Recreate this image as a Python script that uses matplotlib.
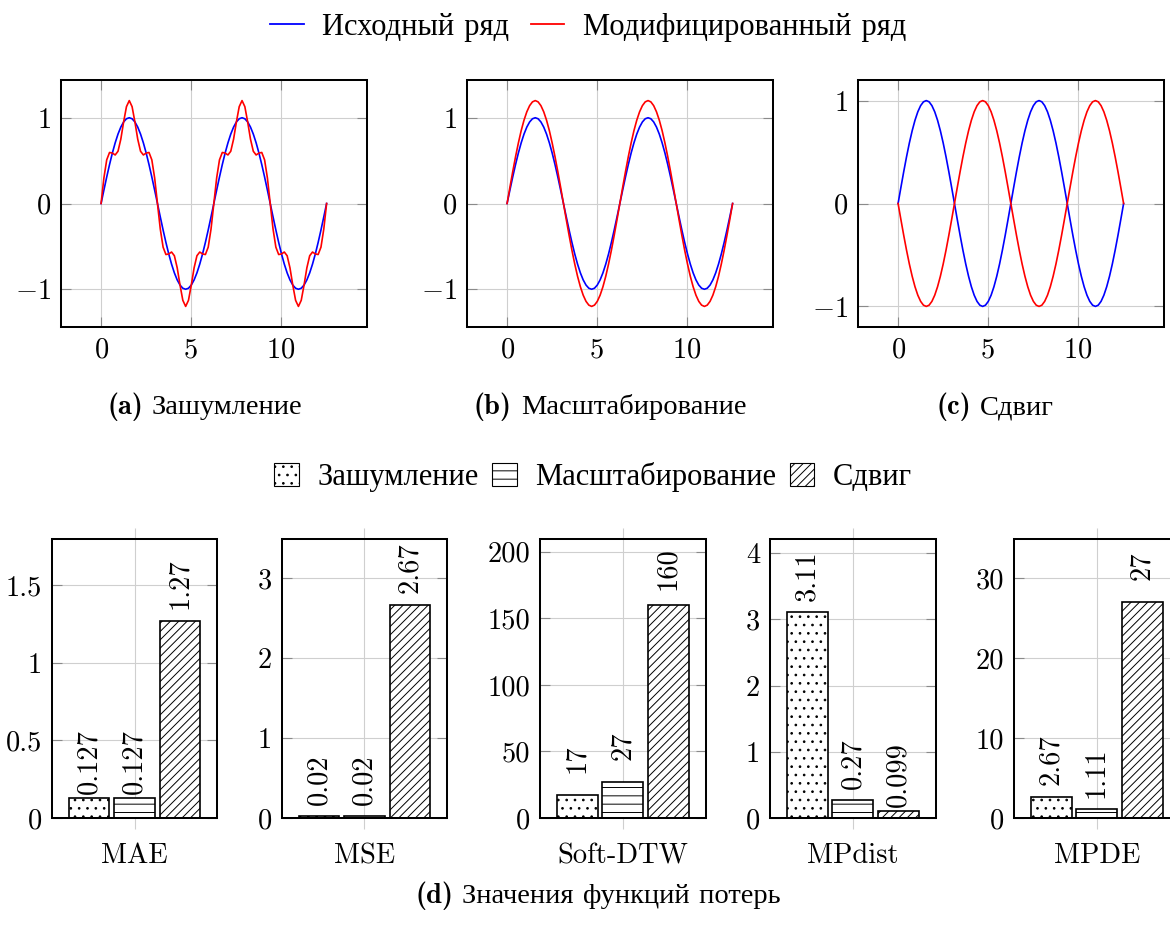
"""Series distortions and loss values: three sine panels plus five loss bar charts."""

import matplotlib

matplotlib.use("Agg")
import matplotlib.pyplot as plt
import numpy as np
from matplotlib.lines import Line2D
from matplotlib.patches import Patch

plt.rcParams["font.family"] = ["cmr10", "Liberation Serif"]
plt.rcParams["mathtext.fontset"] = "cm"
plt.rcParams["axes.formatter.use_mathtext"] = True
plt.rcParams["font.size"] = 20.5
plt.rcParams["hatch.linewidth"] = 0.7
plt.rcParams["axes.unicode_minus"] = True

W, H = 1170, 936

# ---- top row: original vs modified series (samples) ----
X_END = 12.566
SRC = [
    0.000, 0.156, 0.309, 0.454, 0.588, 0.707, 0.809, 0.891, 0.951, 0.988, 1.000,
    0.988, 0.951, 0.891, 0.809, 0.707, 0.588, 0.454, 0.309, 0.156, 0.000,
    -0.156, -0.309, -0.454, -0.588, -0.707, -0.809, -0.891, -0.951, -0.988, -1.000,
    -0.988, -0.951, -0.891, -0.809, -0.707, -0.588, -0.454, -0.309, -0.156, 0.000,
    0.156, 0.309, 0.454, 0.588, 0.707, 0.809, 0.891, 0.951, 0.988, 1.000,
    0.988, 0.951, 0.891, 0.809, 0.707, 0.588, 0.454, 0.309, 0.156, 0.000,
    -0.156, -0.309, -0.454, -0.588, -0.707, -0.809, -0.891, -0.951, -0.988, -1.000,
    -0.988, -0.951, -0.891, -0.809, -0.707, -0.588, -0.454, -0.309, -0.156, 0.000,
]
NOISY = [
    0.000, 0.298, 0.509, 0.595, 0.588, 0.566, 0.609, 0.750, 0.951, 1.129, 1.200,
    1.129, 0.951, 0.750, 0.609, 0.566, 0.588, 0.595, 0.509, 0.298, 0.000,
    -0.298, -0.509, -0.595, -0.588, -0.566, -0.609, -0.750, -0.951, -1.129, -1.200,
    -1.129, -0.951, -0.750, -0.609, -0.566, -0.588, -0.595, -0.509, -0.298, 0.000,
    0.298, 0.509, 0.595, 0.588, 0.566, 0.609, 0.750, 0.951, 1.129, 1.200,
    1.129, 0.951, 0.750, 0.609, 0.566, 0.588, 0.595, 0.509, 0.298, 0.000,
    -0.298, -0.509, -0.595, -0.588, -0.566, -0.609, -0.750, -0.951, -1.129, -1.200,
    -1.129, -0.951, -0.750, -0.609, -0.566, -0.588, -0.595, -0.509, -0.298, 0.000,
]
SCALED = [
    0.000, 0.188, 0.371, 0.545, 0.705, 0.849, 0.971, 1.069, 1.141, 1.185, 1.200,
    1.185, 1.141, 1.069, 0.971, 0.849, 0.705, 0.545, 0.371, 0.188, 0.000,
    -0.188, -0.371, -0.545, -0.705, -0.849, -0.971, -1.069, -1.141, -1.185, -1.200,
    -1.185, -1.141, -1.069, -0.971, -0.849, -0.705, -0.545, -0.371, -0.188, 0.000,
    0.188, 0.371, 0.545, 0.705, 0.849, 0.971, 1.069, 1.141, 1.185, 1.200,
    1.185, 1.141, 1.069, 0.971, 0.849, 0.705, 0.545, 0.371, 0.188, 0.000,
    -0.188, -0.371, -0.545, -0.705, -0.849, -0.971, -1.069, -1.141, -1.185, -1.200,
    -1.185, -1.141, -1.069, -0.971, -0.849, -0.705, -0.545, -0.371, -0.188, 0.000,
]
SHIFTED = [
    0.000, -0.156, -0.309, -0.454, -0.588, -0.707, -0.809, -0.891, -0.951, -0.988, -1.000,
    -0.988, -0.951, -0.891, -0.809, -0.707, -0.588, -0.454, -0.309, -0.156, 0.000,
    0.156, 0.309, 0.454, 0.588, 0.707, 0.809, 0.891, 0.951, 0.988, 1.000,
    0.988, 0.951, 0.891, 0.809, 0.707, 0.588, 0.454, 0.309, 0.156, 0.000,
    -0.156, -0.309, -0.454, -0.588, -0.707, -0.809, -0.891, -0.951, -0.988, -1.000,
    -0.988, -0.951, -0.891, -0.809, -0.707, -0.588, -0.454, -0.309, -0.156, 0.000,
    0.156, 0.309, 0.454, 0.588, 0.707, 0.809, 0.891, 0.951, 0.988, 1.000,
    0.988, 0.951, 0.891, 0.809, 0.707, 0.588, 0.454, 0.309, 0.156, 0.000,
]
TOP_TAGS = ["(a)", "(b)", "(c)"]
TOP_TITLES = ["Зашумление", "Масштабирование", "Сдвиг"]
TOP_MODIFIED = [NOISY, SCALED, SHIFTED]
TOP_YTICKS = [-1, 0, 1]
TOP_XTICKS = [0, 5, 10]
LEGEND_TOP = ["Исходный ряд", "Модифицированный ряд"]

# ---- bottom row: loss values ----
LOSS_NAMES = ["MAE", "MSE", "Soft-DTW", "MPdist", "MPDE"]
NOISE_VALS = [0.127, 0.02, 17, 3.11, 2.67]
SCALE_VALS = [0.127, 0.02, 27, 0.27, 1.11]
SHIFT_VALS = [1.27, 2.67, 160, 0.099, 27]
LOSS_YMAX = [1.8, 3.5, 210, 4.22, 35]
LOSS_YTICKS = [
    [0, 0.5, 1, 1.5],
    [0, 1, 2, 3],
    [0, 50, 100, 150, 200],
    [0, 1, 2, 3, 4],
    [0, 10, 20, 30],
]
DIST_NAMES = ["Зашумление", "Масштабирование", "Сдвиг"]
HATCHES = ["..", "--", "////"]

GRID_C = "#cfcfcf"
TICK_C = "#8a8a8a"
FRAME_LW = 1.45


def px_axes(fig, left, top, right, bottom):
    return fig.add_axes([left / W, 1 - bottom / H, (right - left) / W, (bottom - top) / H])


def style_frame(ax):
    for sp in ax.spines.values():
        sp.set_linewidth(FRAME_LW)
        sp.set_color("black")
    ax.set_axisbelow(True)
    ax.grid(True, color=GRID_C, lw=0.8)


fig = plt.figure(figsize=(W / 100, H / 100), dpi=100)

top_lefts = [60.7, 466.7, 857.7]
top_ylims = [(-1.44, 1.44), (-1.44, 1.44), (-1.2, 1.2)]
x = np.linspace(0, X_END, len(SRC))
for i, left in enumerate(top_lefts):
    ax = px_axes(fig, left, 80, left + 306, 327)
    ax.plot(x, SRC, color="blue", lw=1.2)
    ax.plot(x, TOP_MODIFIED[i], color="red", lw=1.2)
    ax.set_xlim(-2.25, 14.8)
    ax.set_ylim(*top_ylims[i])
    ax.set_xticks(TOP_XTICKS)
    ax.set_yticks(TOP_YTICKS)
    style_frame(ax)
    ax.tick_params(direction="in", length=7, width=0.8, color=TICK_C,
                   top=True, right=True, pad=7)

caption_y = 1 - 414 / H
tag_x = [143, 512, 971]
for i in range(3):
    fig.text(tag_x[i] / W, caption_y, TOP_TAGS[i], family="cmb10",
             ha="right", va="baseline")
    fig.text((tag_x[i] + 9) / W, caption_y, TOP_TITLES[i], ha="left", va="baseline")

fig.legend(
    handles=[Line2D([], [], color="blue", lw=1.3), Line2D([], [], color="red", lw=1.3)],
    labels=LEGEND_TOP,
    loc="center",
    bbox_to_anchor=(588 / W, 1 - 27 / H),
    ncol=2,
    frameon=False,
    fontsize=22,
    handlelength=1.1,
    handletextpad=0.6,
    columnspacing=0.7,
)

bar_lefts = [51.7, 281.7, 540, 770, 1014]
bar_pos = [-1, 0, 1]
for i, left in enumerate(bar_lefts):
    ax = px_axes(fig, left, 538.5, left + 165.6, 818)
    vals = [NOISE_VALS[i], SCALE_VALS[i], SHIFT_VALS[i]]
    for p, v, h in zip(bar_pos, vals, HATCHES):
        ax.bar(p, v, width=0.9, facecolor="white", edgecolor="black", hatch=h,
               lw=1.2, zorder=2)
        # label centre sits a fixed distance above the bar top
        ax.annotate(f"{v:g}", (p, v), xytext=(0, 26.5), textcoords="offset points",
                    rotation=90, ha="center", va="center")
    ax.set_xlim(-1.82, 1.82)
    ax.set_ylim(0, LOSS_YMAX[i])
    ax.set_xticks([0])
    ax.set_xticklabels([LOSS_NAMES[i]])
    ax.set_yticks(LOSS_YTICKS[i])
    ax.set_yticklabels([f"{t:g}" for t in LOSS_YTICKS[i]])
    style_frame(ax)
    ax.tick_params(axis="y", direction="in", length=7, width=0.8, color=TICK_C,
                   right=True, pad=7)
    ax.tick_params(axis="x", direction="out", length=8, width=0.8, color=GRID_C,
                   top=True, pad=10)

fig.legend(
    handles=[Patch(facecolor="white", edgecolor="black", hatch=h, lw=0.8) for h in HATCHES],
    labels=DIST_NAMES,
    loc="center",
    bbox_to_anchor=(593 / W, 1 - 477 / H),
    ncol=3,
    frameon=False,
    fontsize=22,
    handlelength=0.8,
    handleheight=0.8,
    handletextpad=0.6,
    columnspacing=0.45,
)

fig.text(453 / W, 1 - 903 / H, "(d)", family="cmb10", ha="right", va="baseline")
fig.text(462 / W, 1 - 903 / H, "Значения функций потерь", ha="left", va="baseline")

fig.savefig("out.png", dpi=100)
